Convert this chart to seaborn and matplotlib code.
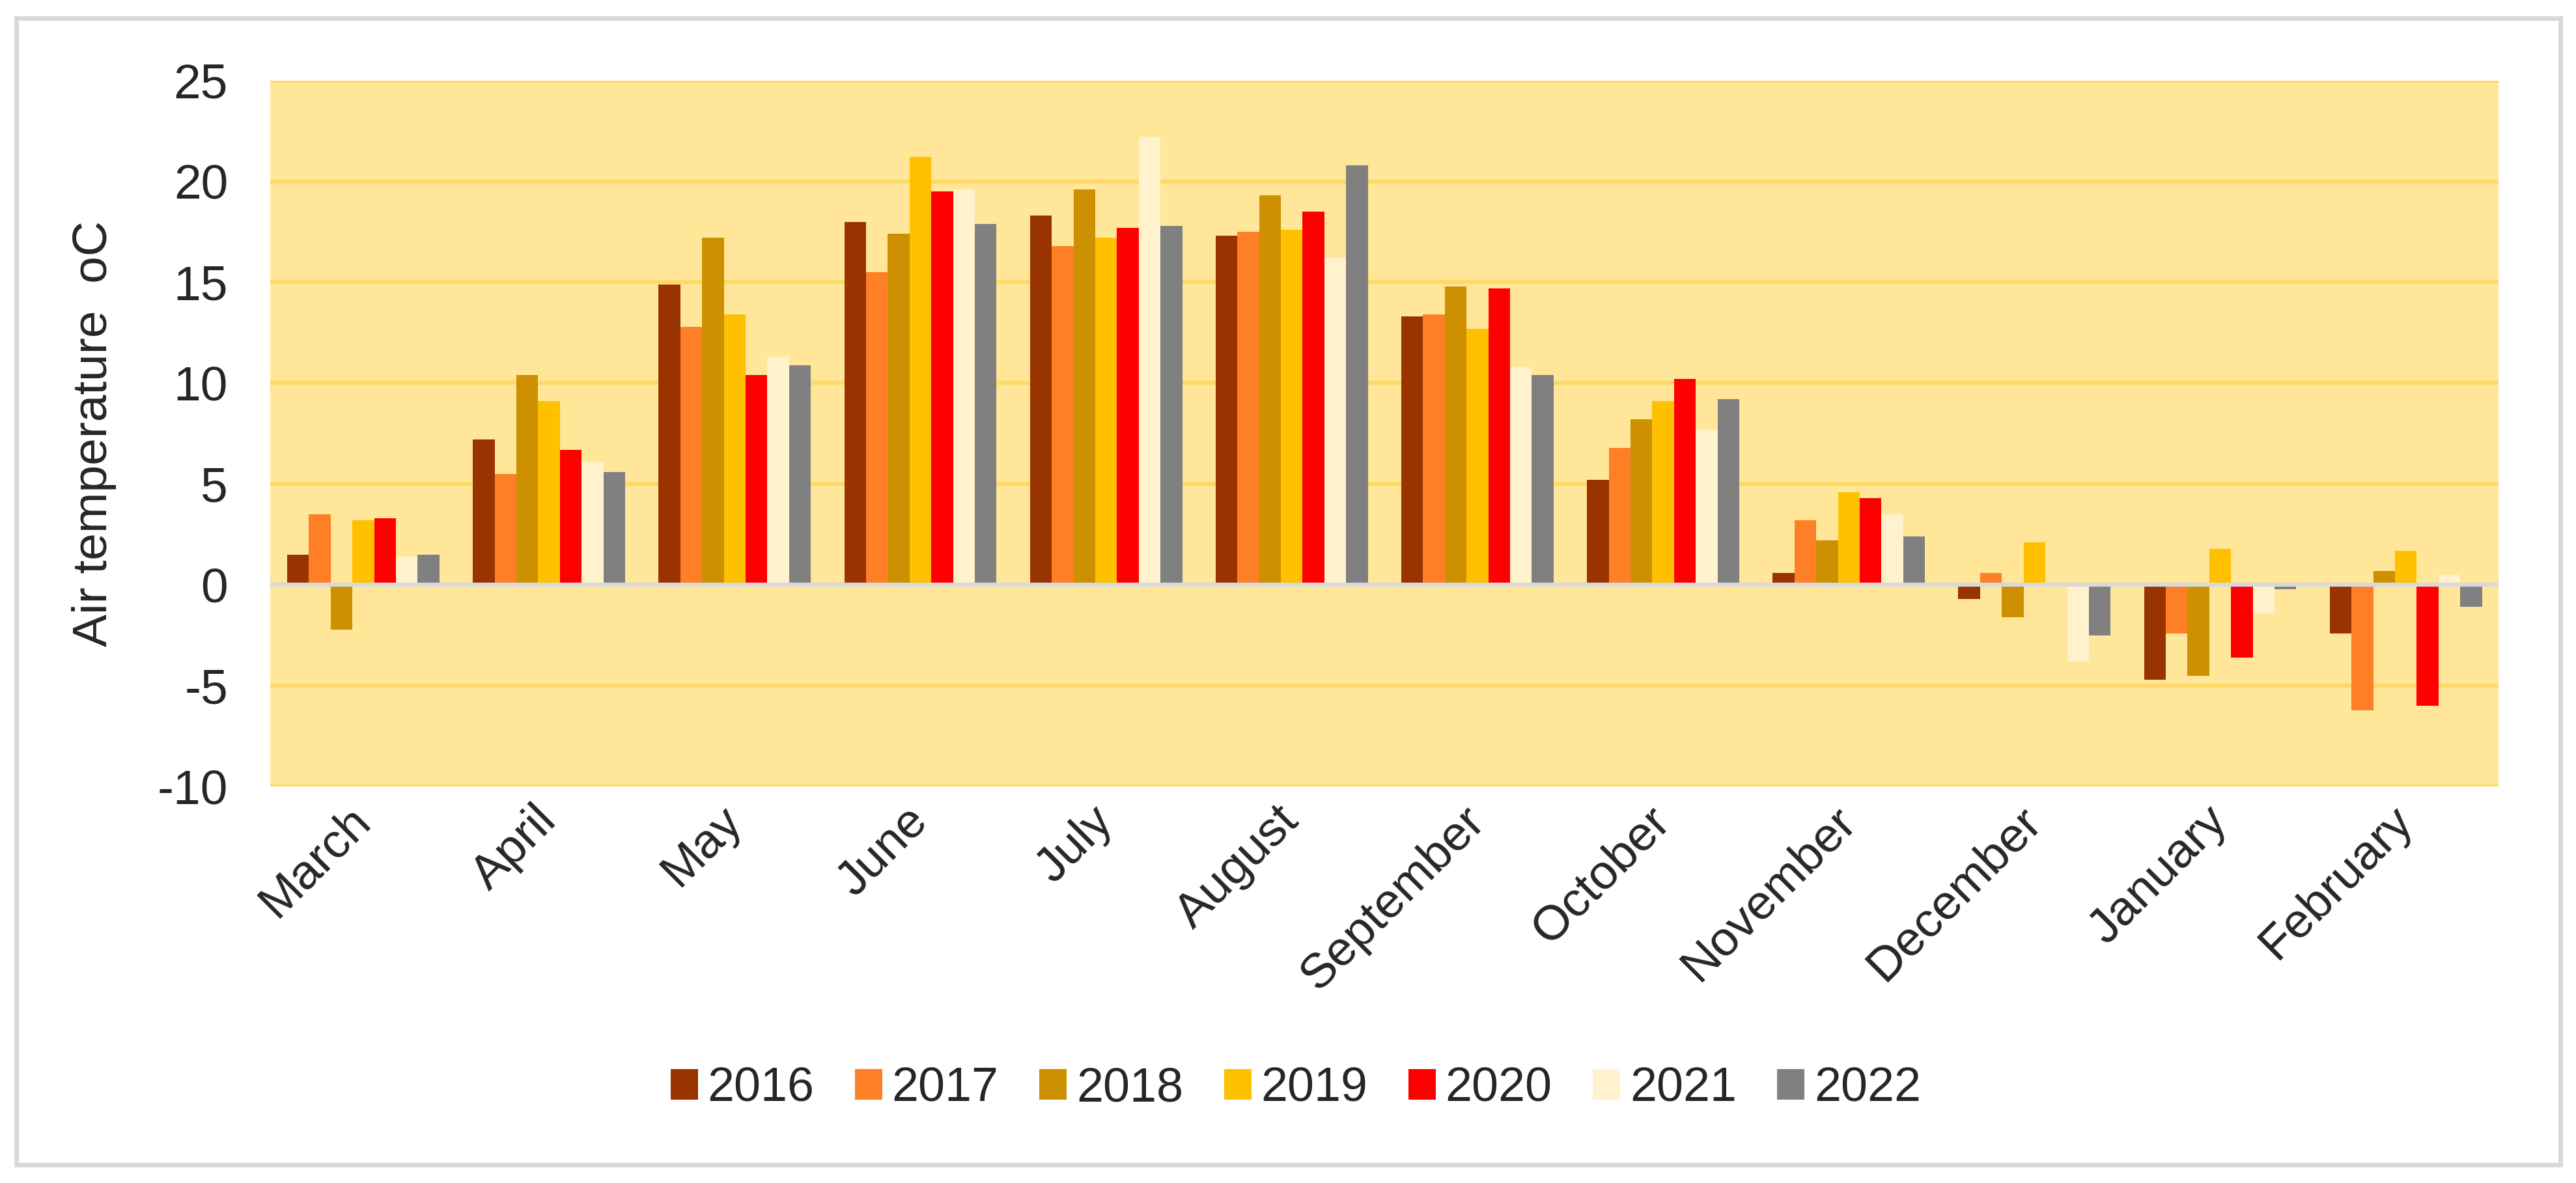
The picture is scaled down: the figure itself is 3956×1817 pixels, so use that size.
import numpy as np
import pandas as pd
import matplotlib
matplotlib.use('Agg')
import matplotlib.pyplot as plt
from matplotlib.patches import Rectangle
import seaborn as sns

# Monthly mean air temperature (oC)
months = ['March', 'April', 'May', 'June', 'July', 'August', 'September',
          'October', 'November', 'December', 'January', 'February']
years = ['2016', '2017', '2018', '2019', '2020', '2021', '2022']

t2016 = [1.5, 7.2, 14.9, 18.0, 18.3, 17.3, 13.3, 5.2, 0.6, -0.7, -4.7, -2.4]
t2017 = [3.5, 5.5, 12.8, 15.5, 16.8, 17.5, 13.4, 6.8, 3.2, 0.6, -2.4, -6.2]
t2018 = [-2.2, 10.4, 17.2, 17.4, 19.6, 19.3, 14.8, 8.2, 2.2, -1.6, -4.5, 0.7]
t2019 = [3.2, 9.1, 13.4, 21.2, 17.2, 17.6, 12.7, 9.1, 4.6, 2.1, 1.8, 1.7]
t2020 = [3.3, 6.7, 10.4, 19.5, 17.7, 18.5, 14.7, 10.2, 4.3, np.nan, -3.6, -6.0]
t2021 = [1.4, 6.1, 11.3, 19.6, 22.2, 16.2, 10.8, 7.7, 3.5, -3.8, -1.4, 0.5]
t2022 = [1.5, 5.6, 10.9, 17.9, 17.8, 20.8, 10.4, 9.2, 2.4, -2.5, -0.2, -1.1]

colors = ['#993300', '#FF7F27', '#CC9000', '#FFC000', '#FF0000', '#FFF2CC', '#808080']

series = [t2016, t2017, t2018, t2019, t2020, t2021, t2022]
rows = []
for yr, vals in zip(years, series):
    for m, v in zip(months, vals):
        rows.append({'month': m, 'year': yr, 'temp': v})
df = pd.DataFrame(rows).dropna()

sns.set_style('white')
plt.rcParams['font.family'] = ['Liberation Sans', 'DejaVu Sans']
plt.rcParams['axes.unicode_minus'] = False

fig = plt.figure(figsize=(39.56, 18.17), dpi=100)
ax = fig.add_axes([0.105, 0.335, 0.865, 0.597])
ax.set_facecolor('#FFE699')

sns.barplot(data=df, x='month', y='temp', hue='year', order=months, hue_order=years,
            palette=colors, width=0.82, gap=0, errorbar=None, saturation=1,
            linewidth=0, ax=ax, zorder=2)

ax.set_ylim(-10, 25)
ax.set_yticks(np.arange(-10, 26, 5))
ax.set_xlim(-0.5, len(months) - 0.5)
for yv in np.arange(-10, 26, 5):
    if yv == 0:
        continue
    ax.axhline(yv, color='#FFD966', lw=4.5, zorder=1)
ax.axhline(0, color='#D9D9D9', lw=4.5, zorder=3)

for s in ax.spines.values():
    s.set_visible(False)
ax.tick_params(axis='both', length=0)
ax.tick_params(axis='y', labelsize=54, pad=47)
ax.tick_params(axis='x', labelsize=54, pad=30)
plt.setp(ax.get_xticklabels(), rotation=45, ha='right', va='center', rotation_mode='anchor')

ax.set_xlabel('')
ax.set_ylabel('Air temperature  oC', fontsize=54)
ax.yaxis.set_label_coords(-0.069, 0.5)

handles, labels = ax.get_legend_handles_labels()
ax.legend_.remove()
fig.legend(handles, labels, loc='center', bbox_to_anchor=(0.503, 0.080), ncol=7,
           frameon=False, fontsize=53, handlelength=0.57, handleheight=0.6,
           handletextpad=0.2, columnspacing=0.85)

# outer chart border
fig.patches.append(Rectangle((25 / 3956, 1 - 1789 / 1817), 3907 / 3956, 1761 / 1817,
                             transform=fig.transFigure, fill=False,
                             edgecolor='#D9D9D9', lw=5))

fig.savefig('out.png', dpi=100)
